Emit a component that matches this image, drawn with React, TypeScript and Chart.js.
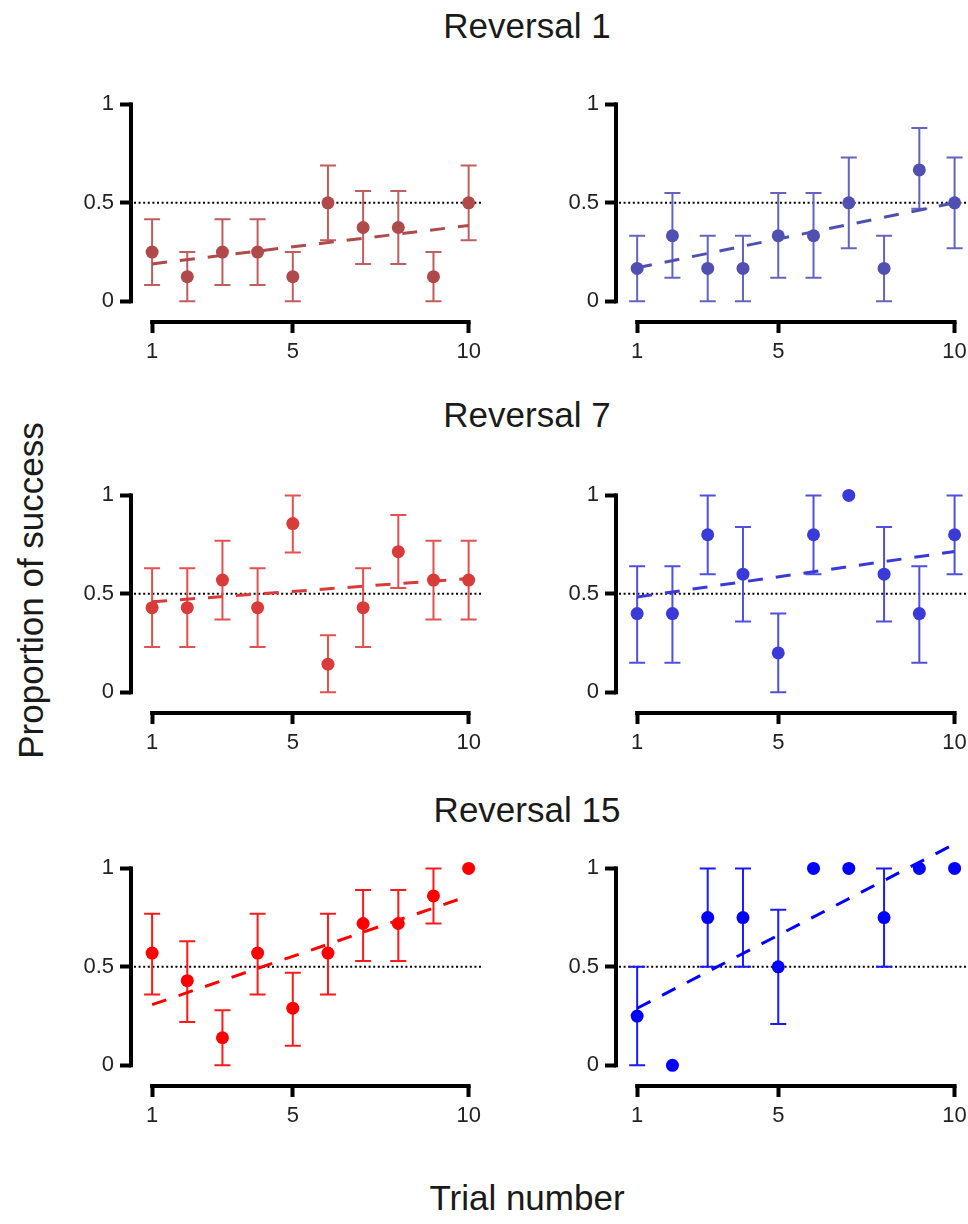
import React, { useEffect, useRef } from "react";
import { Chart, registerables } from "chart.js";

Chart.register(...registerables);

// ---------- data ----------
const TRIALS = [1, 2, 3, 4, 5, 6, 7, 8, 9, 10];
const X_TICKS = [1, 5, 10];
const Y_TICKS = [0, 0.5, 1];
const Y_TICK_LABELS = ["0", "0.5", "1"];
const CHANCE = 0.5;
const FIT_X = [1, 10];

const ROW_TITLES = ["Reversal 1", "Reversal 7", "Reversal 15"];
const Y_TITLE = "Proportion of success";
const X_TITLE = "Trial number";

// Reversal 1 – left (red group)
const r1LeftMean = [0.25, 0.125, 0.25, 0.25, 0.125, 0.5, 0.375, 0.375, 0.125, 0.5];
const r1LeftLow = [0.083, 0, 0.083, 0.083, 0, 0.31, 0.19, 0.19, 0, 0.31];
const r1LeftHigh = [0.417, 0.25, 0.417, 0.417, 0.25, 0.69, 0.56, 0.56, 0.25, 0.69];
const r1LeftFit = [0.19, 0.385];

// Reversal 1 – right (blue group)
const r1RightMean = [0.167, 0.333, 0.167, 0.167, 0.333, 0.333, 0.5, 0.167, 0.667, 0.5];
const r1RightLow = [0, 0.12, 0, 0, 0.12, 0.12, 0.27, 0, 0.47, 0.27];
const r1RightHigh = [0.333, 0.55, 0.333, 0.333, 0.55, 0.55, 0.73, 0.333, 0.88, 0.73];
const r1RightFit = [0.17, 0.5];

// Reversal 7 – left
const r7LeftMean = [0.43, 0.43, 0.57, 0.43, 0.857, 0.143, 0.43, 0.714, 0.57, 0.57];
const r7LeftLow = [0.23, 0.23, 0.37, 0.23, 0.71, 0, 0.23, 0.53, 0.37, 0.37];
const r7LeftHigh = [0.63, 0.63, 0.77, 0.63, 1.0, 0.29, 0.63, 0.9, 0.77, 0.77];
const r7LeftFit = [0.46, 0.578];

// Reversal 7 – right
const r7RightMean = [0.4, 0.4, 0.8, 0.6, 0.2, 0.8, 1.0, 0.6, 0.4, 0.8];
const r7RightLow = [0.15, 0.15, 0.6, 0.36, 0, 0.6, null, 0.36, 0.15, 0.6];
const r7RightHigh = [0.64, 0.64, 1.0, 0.84, 0.4, 1.0, null, 0.84, 0.64, 1.0];
const r7RightFit = [0.484, 0.715];

// Reversal 15 – left
const r15LeftMean = [0.57, 0.43, 0.14, 0.57, 0.29, 0.57, 0.72, 0.72, 0.86, 1.0];
const r15LeftLow = [0.36, 0.22, 0, 0.36, 0.1, 0.36, 0.53, 0.53, 0.72, null];
const r15LeftHigh = [0.77, 0.63, 0.28, 0.77, 0.47, 0.77, 0.89, 0.89, 1.0, null];
const r15LeftFit = [0.308, 0.86];

// Reversal 15 – right
const r15RightMean = [0.25, 0, 0.75, 0.75, 0.5, 1, 1, 0.75, 1, 1];
const r15RightLow = [0, null, 0.5, 0.5, 0.21, null, null, 0.5, null, null];
const r15RightHigh = [0.5, null, 1, 1, 0.79, null, null, 1, null, null];
const r15RightFitX = [1, 9.85];
const r15RightFit = [0.29, 1.11];

// ---------- layout / style ----------
const FONT = "'Liberation Sans', Arial, Helvetica, sans-serif";
const X_MIN = 0.4;
const X_MAX = 10.38;
const Y_MIN = -0.105;
const Y_MAX = 1.2;
const Y_AXIS_W = 60;
const X_AXIS_H = 50;
const CANVAS_H = 307;
const COL_LEFT = [71, 556];
const COL_W = [411, 412];
const ROW_TOP = [65, 456, 829];

type Panel = {
  mean: (number | null)[];
  low: (number | null)[];
  high: (number | null)[];
  fitX: number[];
  fitY: number[];
  color: string;
  errColor: string;
  row: number;
  col: number;
};

const PANELS: Panel[] = [
  { mean: r1LeftMean, low: r1LeftLow, high: r1LeftHigh, fitX: FIT_X, fitY: r1LeftFit, color: "#b04a4a", errColor: "#bf5e5e", row: 0, col: 0 },
  { mean: r1RightMean, low: r1RightLow, high: r1RightHigh, fitX: FIT_X, fitY: r1RightFit, color: "#5050b2", errColor: "#6464c0", row: 0, col: 1 },
  { mean: r7LeftMean, low: r7LeftLow, high: r7LeftHigh, fitX: FIT_X, fitY: r7LeftFit, color: "#d93a3a", errColor: "#e25050", row: 1, col: 0 },
  { mean: r7RightMean, low: r7RightLow, high: r7RightHigh, fitX: FIT_X, fitY: r7RightFit, color: "#3a3ad9", errColor: "#5050e0", row: 1, col: 1 },
  { mean: r15LeftMean, low: r15LeftLow, high: r15LeftHigh, fitX: FIT_X, fitY: r15LeftFit, color: "#ff0000", errColor: "#ff1a1a", row: 2, col: 0 },
  { mean: r15RightMean, low: r15RightLow, high: r15RightHigh, fitX: r15RightFitX, fitY: r15RightFit, color: "#0000ff", errColor: "#1a1aff", row: 2, col: 1 },
];

const panelPlugin = {
  id: "panelDecor",
  beforeDatasetsDraw(chart: any, _args: any, opts: any) {
    const { ctx, chartArea } = chart;
    const x = chart.scales.x;
    const y = chart.scales.y;
    ctx.save();
    // chance line
    ctx.strokeStyle = "#000";
    ctx.lineWidth = 2;
    ctx.setLineDash([2, 2.6]);
    const yc = y.getPixelForValue(opts.chance);
    ctx.beginPath();
    ctx.moveTo(chartArea.left + 3, yc);
    ctx.lineTo(chartArea.right, yc);
    ctx.stroke();
    ctx.setLineDash([]);
    // error bars
    ctx.strokeStyle = opts.color;
    ctx.lineWidth = 2;
    const cap = 8;
    opts.xs.forEach((xv: number, i: number) => {
      const lo = opts.low[i];
      const hi = opts.high[i];
      if (lo == null || hi == null) return;
      const px = x.getPixelForValue(xv);
      const pl = y.getPixelForValue(lo);
      const ph = y.getPixelForValue(hi);
      ctx.beginPath();
      ctx.moveTo(px, pl);
      ctx.lineTo(px, ph);
      ctx.moveTo(px - cap, pl);
      ctx.lineTo(px + cap, pl);
      ctx.moveTo(px - cap, ph);
      ctx.lineTo(px + cap, ph);
      ctx.stroke();
    });
    ctx.restore();
  },
  afterDraw(chart: any) {
    const { ctx, chartArea } = chart;
    const x = chart.scales.x;
    const y = chart.scales.y;
    ctx.save();
    ctx.strokeStyle = "#000";
    ctx.lineWidth = 4;
    ctx.lineCap = "butt";
    const y0 = y.getPixelForValue(Y_TICKS[0]);
    const y1 = y.getPixelForValue(Y_TICKS[Y_TICKS.length - 1]);
    ctx.beginPath();
    ctx.moveTo(chartArea.left, y0 + 2);
    ctx.lineTo(chartArea.left, y1 - 2);
    ctx.stroke();
    const xa = x.getPixelForValue(X_TICKS[0]);
    const xb = x.getPixelForValue(X_TICKS[X_TICKS.length - 1]);
    ctx.beginPath();
    ctx.moveTo(xa - 2, chartArea.bottom);
    ctx.lineTo(xb + 2, chartArea.bottom);
    ctx.stroke();
    ctx.restore();
  },
};

function PanelChart({ panel }: { panel: Panel }) {
  const ref = useRef<HTMLCanvasElement | null>(null);
  useEffect(() => {
    if (!ref.current) return;
    const chart = new Chart(ref.current, {
      type: "scatter",
      data: {
        datasets: [
          {
            type: "scatter",
            data: TRIALS.map((t, i) => ({ x: t, y: panel.mean[i] as number })),
            pointRadius: 6.5,
            pointBackgroundColor: panel.color,
            pointBorderWidth: 0,
            showLine: false,
            order: 0,
          } as any,
          {
            type: "line",
            data: panel.fitX.map((t, i) => ({ x: t, y: panel.fitY[i] })),
            borderColor: panel.color,
            borderWidth: 3,
            borderDash: [15, 13],
            pointRadius: 0,
            fill: false,
            tension: 0,
            order: 1,
          } as any,
        ],
      },
      options: {
        animation: false,
        responsive: false,
        maintainAspectRatio: false,
        devicePixelRatio: 1,
        events: [],
        layout: { padding: 0, autoPadding: false },
        plugins: {
          legend: { display: false },
          tooltip: { enabled: false },
          panelDecor: {
            chance: CHANCE,
            color: panel.errColor,
            xs: TRIALS,
            low: panel.low,
            high: panel.high,
          },
        } as any,
        scales: {
          x: {
            type: "linear",
            min: X_MIN,
            max: X_MAX,
            afterBuildTicks: (s: any) => {
              s.ticks = X_TICKS.map((v) => ({ value: v }));
            },
            afterFit: (s: any) => {
              s.height = X_AXIS_H;
              s.paddingLeft = 0;
              s.paddingRight = 0;
            },
            border: { display: false },
            grid: {
              display: true,
              drawOnChartArea: false,
              drawTicks: true,
              tickLength: 11,
              tickWidth: 4,
              tickColor: "#000",
            },
            ticks: {
              autoSkip: false,
              maxRotation: 0,
              padding: 6,
              color: "#222",
              font: { family: FONT, size: 22 },
              callback: (v: any) => String(v),
            },
          },
          y: {
            type: "linear",
            min: Y_MIN,
            max: Y_MAX,
            afterBuildTicks: (s: any) => {
              s.ticks = Y_TICKS.map((v) => ({ value: v }));
            },
            afterFit: (s: any) => {
              s.width = Y_AXIS_W;
              s.paddingTop = 0;
              s.paddingBottom = 0;
            },
            border: { display: false },
            grid: {
              display: true,
              drawOnChartArea: false,
              drawTicks: true,
              tickLength: 11,
              tickWidth: 4,
              tickColor: "#000",
            },
            ticks: {
              autoSkip: false,
              padding: 6,
              color: "#222",
              font: { family: FONT, size: 22 },
              callback: (v: any) => {
                const idx = Y_TICKS.indexOf(Number(v));
                return idx >= 0 ? Y_TICK_LABELS[idx] : "";
              },
            },
          },
        },
      } as any,
      plugins: [panelPlugin as any],
    });
    return () => chart.destroy();
  }, [panel]);

  const left = COL_LEFT[panel.col];
  const width = COL_W[panel.col];
  const top = ROW_TOP[panel.row];
  return (
    <canvas
      ref={ref}
      width={width}
      height={CANVAS_H}
      style={{ position: "absolute", left, top, width, height: CANVAS_H }}
    />
  );
}

const TITLE_TOPS = [8, 397, 792];

export default function App() {
  useEffect(() => {
    document.body.style.overflow = "hidden";
  }, []);
  const textStyle: React.CSSProperties = {
    position: "absolute",
    fontFamily: FONT,
    fontSize: 35,
    lineHeight: "35px",
    color: "#1a1a1a",
    whiteSpace: "nowrap",
    textAlign: "center",
  };
  return (
    <div
      style={{
        position: "absolute",
        left: 0,
        top: 0,
        width: 968,
        height: 1224,
        background: "#fff",
        overflow: "hidden",
      }}
    >
      {ROW_TITLES.map((t, i) => (
        <div key={t} style={{ ...textStyle, left: 227, width: 600, top: TITLE_TOPS[i] }}>
          {t}
        </div>
      ))}
      <div style={{ ...textStyle, left: 227, width: 600, top: 1180 }}>{X_TITLE}</div>
      <div
        style={{
          ...textStyle,
          left: 30 - 250,
          top: 590 - 17.5,
          width: 500,
          height: 35,
          transform: "rotate(-90deg)",
        }}
      >
        {Y_TITLE}
      </div>
      {PANELS.map((p, i) => (
        <PanelChart key={i} panel={p} />
      ))}
    </div>
  );
}
